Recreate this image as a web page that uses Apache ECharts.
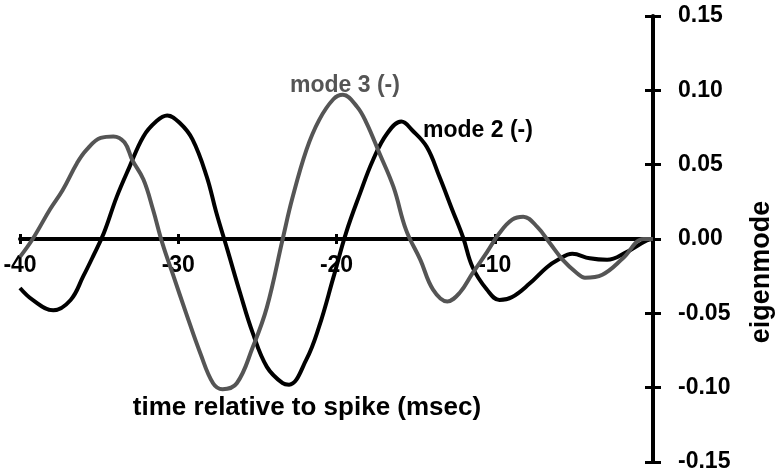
<!DOCTYPE html>
<html>
<head>
<meta charset="utf-8">
<title>eigenmodes</title>
<script src="https://cdn.jsdelivr.net/npm/echarts@6/dist/echarts.min.js"></script>
<style>
  html, body { margin: 0; padding: 0; background: #fff; }
  #chart { width: 780px; height: 472px; }
</style>
</head>
<body>
<div id="chart"></div>
<script>
// mode 2 (-), black : time (msec relative to spike) and value
const mode2Time = [-40, -39.2, -37.9, -36.8, -36.0, -35.4, -34.7, -33.9, -33.1, -32.2, -31.4,
  -30.7, -29.9, -29.1, -28.2, -27.6, -26.9, -26.1, -25.3, -24.4, -23.4,
  -23.0, -21.9, -21.1, -20.2, -19.4, -18.5, -17.7, -16.8, -15.9, -15.2,
  -14.3, -13.5, -12.7, -12.0, -11.4, -10.5, -9.7, -8.9, -7.8, -6.7,
  -6.0, -5.1, -4.0, -2.9, -1.7, -0.4, 0];
const mode2 = [-0.033, -0.041, -0.048, -0.041, -0.025, -0.012, 0.004, 0.028, 0.048, 0.069, 0.079,
  0.083, 0.078, 0.067, 0.042, 0.018, -0.007, -0.036, -0.063, -0.086, -0.097,
  -0.098, -0.081, -0.059, -0.026, 0.004, 0.031, 0.053, 0.071, 0.079, 0.073,
  0.062, 0.042, 0.020, 0.001, -0.019, -0.034, -0.041, -0.039, -0.030, -0.019,
  -0.014, -0.010, -0.013, -0.014, -0.009, -0.001, 0.000];

// mode 3 (-), grey
const mode3Time = [-40, -39.2, -38.1, -37.3, -36.4, -35.8, -34.9, -34.1, -33.4, -32.9, -32.2,
  -31.6, -31.0, -30.3, -29.5, -28.6, -27.8, -27.2, -26.3, -25.3, -24.4,
  -23.4, -22.8, -21.9, -21.1, -20.2, -19.6, -18.7, -18.1, -17.3, -16.4,
  -15.6, -14.7, -13.9, -13.0, -12.2, -11.4, -10.5, -9.7, -8.9, -8.2,
  -7.3, -6.5, -5.7, -4.8, -4.3, -3.2, -1.9, -0.6, 0];
const mode3 = [-0.012, 0.000, 0.020, 0.033, 0.051, 0.060, 0.068, 0.069, 0.065, 0.053, 0.040,
  0.020, -0.003, -0.025, -0.050, -0.077, -0.097, -0.101, -0.097, -0.073, -0.046,
  0.000, 0.027, 0.060, 0.080, 0.094, 0.097, 0.089, 0.078, 0.058, 0.035,
  0.006, -0.014, -0.034, -0.042, -0.036, -0.023, -0.009, 0.004, 0.013, 0.015,
  0.008, -0.003, -0.014, -0.023, -0.026, -0.024, -0.013, 0.000, 0.000];

const xTicks = { min: -40, max: 0, interval: 10 };
const yTicks = { min: -0.15, max: 0.15, interval: 0.05 };

const FONT = 'Liberation Sans, Arial, sans-serif';
const GREY = '#555555';

// grid box, the x axis sits half way up it (at y = 0)
const GRID = { left: 20, right: 127, top: 16, bottom: 10 };
const plotH = 472 - GRID.top - GRID.bottom;
const zeroOffset = -plotH / 2;

function pairs(xs, ys) {
  return xs.map((x, i) => [x, ys[i]]);
}

let chart = echarts.init(document.getElementById('chart'));

let option = {
  animation: false,
  grid: Object.assign({ outerBoundsMode: 'none', containLabel: false }, GRID),
  xAxis: [
    {
      type: 'value',
      min: xTicks.min,
      max: xTicks.max,
      interval: xTicks.interval,
      position: 'bottom',
      offset: zeroOffset,
      axisLine: { onZero: false, lineStyle: { color: '#000', width: 4 } },
      axisTick: { show: true, length: 5, lineStyle: { color: '#000', width: 3 } },
      axisLabel: {
        margin: 15,
        color: '#000',
        fontFamily: FONT,
        fontWeight: 'bold',
        fontSize: 23,
        formatter: v => (v === 0 ? '' : String(v)),
      },
      splitLine: { show: false },
    },
    {
      // second copy only for the upward half of the cross ticks
      type: 'value',
      min: xTicks.min,
      max: xTicks.max,
      interval: xTicks.interval,
      position: 'bottom',
      offset: zeroOffset,
      axisLine: { show: false, onZero: false },
      axisTick: { show: true, inside: true, length: 5, lineStyle: { color: '#000', width: 3 } },
      axisLabel: { show: false },
      splitLine: { show: false },
    },
  ],
  yAxis: [
    {
      type: 'value',
      position: 'right',
      min: yTicks.min,
      max: yTicks.max,
      interval: yTicks.interval,
      axisLine: { show: true, onZero: false, lineStyle: { color: '#000', width: 4 } },
      axisTick: { show: true, length: 8, lineStyle: { color: '#000', width: 3 } },
      axisLabel: {
        margin: 25,
        color: '#000',
        fontFamily: FONT,
        fontWeight: 'bold',
        fontSize: 23,
        formatter: v => v.toFixed(2),
      },
      splitLine: { show: false },
    },
    {
      type: 'value',
      position: 'right',
      min: yTicks.min,
      max: yTicks.max,
      interval: yTicks.interval,
      axisLine: { show: false, onZero: false },
      axisTick: { show: true, inside: true, length: 8, lineStyle: { color: '#000', width: 3 } },
      axisLabel: { show: false },
      splitLine: { show: false },
    },
  ],
  series: [
    {
      name: 'mode 2 (-)',
      type: 'line',
      data: pairs(mode2Time, mode2),
      smooth: 0.4,
      showSymbol: false,
      lineStyle: { color: '#000', width: 4 },
    },
    {
      name: 'mode 3 (-)',
      type: 'line',
      data: pairs(mode3Time, mode3),
      smooth: 0.4,
      showSymbol: false,
      lineStyle: { color: GREY, width: 4 },
    },
  ],
  graphic: [
    {
      type: 'text',
      left: 290,
      top: 74,
      style: { text: 'mode 3 (-)', fill: GREY, font: 'bold 23px ' + FONT },
    },
    {
      type: 'text',
      left: 423,
      top: 119,
      style: { text: 'mode 2 (-)', fill: '#000', font: 'bold 23px ' + FONT },
    },
    {
      type: 'text',
      x: 307,
      y: 408,
      style: {
        text: 'time relative to spike (msec)',
        fill: '#000',
        font: 'bold 26px ' + FONT,
        align: 'center',
        verticalAlign: 'middle',
      },
    },
    {
      type: 'text',
      x: 762,
      y: 272,
      rotation: Math.PI / 2,
      style: {
        text: 'eigenmode',
        fill: '#000',
        font: 'bold 27px ' + FONT,
        align: 'center',
        verticalAlign: 'middle',
      },
    },
  ],
};

chart.setOption(option);
</script>
</body>
</html>
